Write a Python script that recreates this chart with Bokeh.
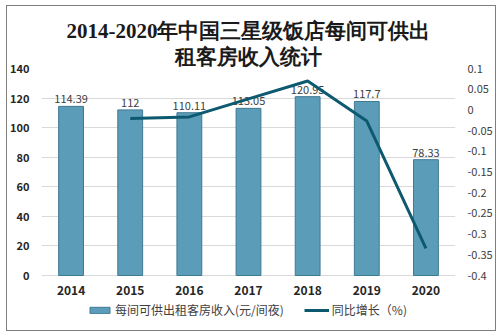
from bokeh.plotting import figure
from bokeh.layouts import column
from bokeh.models import (FactorRange, Range1d, LinearAxis, FixedTicker, Legend, LegendItem,
                          ColumnDataSource, CustomJSTickFormatter, Title)
from bokeh.core.properties import value
from bokeh.embed import file_html
from bokeh.resources import INLINE

years = ["2014", "2015", "2016", "2017", "2018", "2019", "2020"]
revenue = [114.39, 112, 110.11, 113.05, 120.95, 117.7, 78.33]
growth_years = ["2015", "2016", "2017", "2018", "2019", "2020"]
growth = [-0.0209, -0.0169, 0.0267, 0.0699, -0.0269, -0.3345]
left_ticks = [0, 20, 40, 60, 80, 100, 120, 140]
right_ticks = [-0.4, -0.35, -0.3, -0.25, -0.2, -0.15, -0.1, -0.05, 0, 0.05, 0.1]
title_line1 = "2014-2020年中国三星级饭店每间可供出"
title_line2 = "租客房收入统计"
bar_name = "每间可供出租客房收入(元/间夜)"
line_name = "同比增长（%)"

FONT = "Noto Sans CJK SC"

# frame: 207 px for the value range, plus 55 px below the zero line for labels/legend
AXIS_PX = 207.0
BELOW_PX = 55.0
left_lo, left_hi = 0, 140
right_lo, right_hi = -0.4, 0.1
ext = BELOW_PX / AXIS_PX

p = figure(x_range=FactorRange(*years),
           y_range=Range1d(left_lo - (left_hi - left_lo) * ext, left_hi),
           width=488, height=324, output_backend="svg", toolbar_location=None,
           min_border_left=30, min_border_right=38, min_border_top=62, min_border_bottom=0)
p.outline_line_color = None
p.background_fill_color = "white"
p.border_fill_color = "white"

for txt in [title_line2, title_line1]:
    t = Title(text=txt, align="center", text_font="Liberation Serif",
              text_font_size="21px", text_font_style="bold", text_color="#1a1a1a",
              standoff=0, offset=0)
    p.add_layout(t, "above")

p.extra_y_ranges = {"right": Range1d(right_lo - (right_hi - right_lo) * ext, right_hi)}

src = ColumnDataSource(dict(x=years, y=revenue, lbl=[str(v) for v in revenue]))
bars = p.vbar(x="x", top="y", width=0.42, source=src, fill_color="#5b9cb9",
              line_color="#3f7a93", line_width=1)
p.text(x="x", y="y", text="lbl", source=src, text_align="center", text_baseline="bottom",
       y_offset=-3, text_font=value(FONT), text_font_size="11px", text_color="#404040")

# category labels under the zero line
p.text(x=years, y=[0] * len(years), text=years, text_align="center", text_baseline="top",
       y_offset=10, text_font=value(FONT), text_font_size="12px", text_font_style="bold",
       text_color="#262626")

line = p.line(x=growth_years, y=growth, y_range_name="right", line_color="#0d5a70",
              line_width=3)

# axes
p.xaxis.visible = False
p.yaxis.ticker = FixedTicker(ticks=left_ticks)
p.yaxis.axis_line_color = None
p.yaxis.major_tick_line_color = None
p.yaxis.minor_tick_line_color = None
p.yaxis.major_label_text_font = FONT
p.yaxis.major_label_text_font_style = "bold"
p.yaxis.major_label_text_font_size = "11px"
p.yaxis.major_label_text_color = "#262626"
p.yaxis.major_label_standoff = 6

ra = LinearAxis(y_range_name="right", ticker=FixedTicker(ticks=right_ticks),
                formatter=CustomJSTickFormatter(code="""
                    let s = tick.toFixed(2);
                    s = s.replace(/0+$/, '').replace(/\\.$/, '');
                    if (s === '-0') s = '0';
                    return s;"""))
ra.axis_line_color = None
ra.major_tick_line_color = None
ra.minor_tick_line_color = None
ra.major_label_text_font = FONT
ra.major_label_text_font_size = "11px"
ra.major_label_text_color = "#404040"
ra.major_label_standoff = 6
p.add_layout(ra, "right")

p.xgrid.grid_line_color = None
p.ygrid.grid_line_color = "#d9d9d9"
p.ygrid.grid_line_width = 1

legend = Legend(items=[LegendItem(label=bar_name, renderers=[bars]),
                       LegendItem(label=line_name, renderers=[line])],
                orientation="horizontal", location=(46, 12),
                label_text_font=FONT, label_text_font_size="12px", label_text_color="#404040",
                glyph_width=25, glyph_height=8, spacing=20, padding=0, margin=0,
                border_line_color=None, background_fill_alpha=0, label_standoff=3,
                label_height=14)
p.add_layout(legend)

layout = column(p, margin=(5, 0, 0, 6), styles={"border": "1px solid #7f7f7f"})

open("out.html", "w").write(file_html(layout, INLINE))
